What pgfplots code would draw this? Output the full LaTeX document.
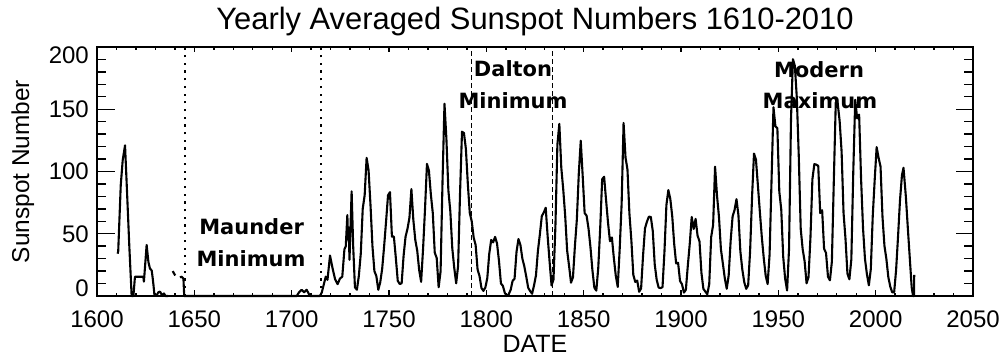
\documentclass[border=0pt]{standalone}
\usepackage{pgfplots}
\pgfplotsset{compat=1.18}
\usepackage{fontspec}
\setmainfont{Liberation Sans}
\newfontfamily\annfont{DejaVu Sans}
\pgfplotstableread{
year ssn
1642.6 15
1643.5 15.5
1644.4 14
1644.8 0
1700.0 0
1702.6 0
1703.8 3
1705.1 5
1706.4 3
1707.7 5
1709.4 0
1714.5 0
1715.5 3
1716.3 8
1717.5 15.5
1718.4 13
1719.7 32.5
1720.9 23
1722.3 13.5
1723.6 9.5
1724.8 14
1726.0 15.5
1727.1 37.5
1727.8 40
1728.6 65
1729.0 45
1729.3 55
1729.7 29
1730.8 84
1731.6 40
1732.5 7
1733.5 5.0
1734.5 16.0
1735.5 34.0
1736.5 70.0
1737.5 81.0
1738.5 111.0
1739.5 101.0
1740.5 73.0
1741.5 40.0
1742.5 20.0
1743.5 16.0
1744.5 5.0
1745.5 11.0
1746.5 22.0
1747.5 40.0
1748.5 60.0
1749.5 80.9
1750.5 83.4
1751.5 47.7
1752.5 47.8
1753.5 30.7
1754.5 12.2
1755.5 9.6
1756.5 10.2
1757.5 32.4
1758.5 47.6
1759.5 54.0
1760.5 62.9
1761.5 85.9
1762.5 61.2
1763.5 45.1
1764.5 36.4
1765.5 20.9
1766.5 11.4
1767.5 37.8
1768.5 69.8
1769.5 106.1
1770.5 100.8
1771.5 81.6
1772.5 66.5
1773.5 34.8
1774.5 30.6
1775.5 7.0
1776.5 19.8
1777.5 92.5
1778.5 154.4
1779.5 125.9
1780.5 84.8
1781.5 68.1
1782.5 38.5
1783.5 22.8
1784.5 10.2
1785.5 24.1
1786.5 82.9
1787.5 132.0
1788.5 130.9
1789.5 118.1
1790.5 89.9
1791.5 66.6
1792.5 60.0
1793.5 46.9
1794.5 41.0
1795.5 21.3
1796.5 16.0
1797.5 6.4
1798.5 4.1
1799.5 6.8
1800.5 14.5
1801.5 34.0
1802.5 45.0
1803.5 43.1
1804.5 47.5
1805.5 42.2
1806.5 28.1
1807.5 10.1
1808.5 8.1
1809.5 2.5
1810.5 0.0
1811.5 1.4
1812.5 5.0
1813.5 12.2
1814.5 13.9
1815.5 35.4
1816.5 45.8
1817.5 41.1
1818.5 30.1
1819.5 23.9
1820.5 15.6
1821.5 6.6
1822.5 4.0
1823.5 1.8
1824.5 8.5
1825.5 16.6
1826.5 36.3
1827.5 49.6
1828.5 64.2
1829.5 67.0
1830.5 70.9
1831.5 47.8
1832.5 27.5
1833.5 8.5
1834.5 13.2
1835.5 56.9
1836.5 121.5
1837.5 138.3
1838.5 103.2
1839.5 85.7
1840.5 64.6
1841.5 36.7
1842.5 24.2
1843.5 10.7
1844.5 15.0
1845.5 40.1
1846.5 61.5
1847.5 98.5
1848.5 124.7
1849.5 96.3
1850.5 66.6
1851.5 64.5
1852.5 54.1
1853.5 39.0
1854.5 20.6
1855.5 6.7
1856.5 4.3
1857.5 22.7
1858.5 54.8
1859.5 93.8
1860.5 95.8
1861.5 77.2
1862.5 59.1
1863.5 44.0
1864.5 47.0
1865.5 30.5
1866.5 16.3
1867.5 7.3
1868.5 37.6
1869.5 74.0
1870.5 139.0
1871.5 111.2
1872.5 101.6
1873.5 66.2
1874.5 44.7
1875.5 17.0
1876.5 11.3
1877.5 12.4
1878.5 3.4
1879.5 6.0
1880.5 32.3
1881.5 54.3
1882.5 59.7
1883.5 63.7
1884.5 63.5
1885.5 52.2
1886.5 25.4
1887.5 13.1
1888.5 6.8
1889.5 6.3
1890.5 7.1
1891.5 35.6
1892.5 73.0
1893.5 85.1
1894.5 78.0
1895.5 64.0
1896.5 41.8
1897.5 26.2
1898.5 26.7
1899.5 12.1
1900.5 9.5
1901.5 2.7
1902.5 5.0
1903.5 24.4
1904.5 42.0
1905.5 63.5
1906.5 53.8
1907.5 62.0
1908.5 48.5
1909.5 43.9
1910.5 18.6
1911.5 5.7
1912.5 3.6
1913.5 1.4
1914.5 9.6
1915.5 47.4
1916.5 57.1
1917.5 103.9
1918.5 80.6
1919.5 63.6
1920.5 37.6
1921.5 26.1
1922.5 14.2
1923.5 5.8
1924.5 16.7
1925.5 44.3
1926.5 63.9
1927.5 69.0
1928.5 77.8
1929.5 64.9
1930.5 35.7
1931.5 21.2
1932.5 11.1
1933.5 5.7
1934.5 8.7
1935.5 36.1
1936.5 79.7
1937.5 114.4
1938.5 109.6
1939.5 88.8
1940.5 67.8
1941.5 47.5
1942.5 30.6
1943.5 16.3
1944.5 9.6
1945.5 33.2
1946.5 92.6
1947.5 151.6
1948.5 136.3
1949.5 134.7
1950.5 83.9
1951.5 69.4
1952.5 31.5
1953.5 13.9
1954.5 4.4
1955.5 38.0
1956.5 141.7
1957.5 190.2
1958.5 184.8
1959.5 159.0
1960.5 112.3
1961.5 53.9
1962.5 37.6
1963.5 27.9
1964.5 10.2
1965.5 15.1
1966.5 47.0
1967.5 93.8
1968.5 105.9
1969.5 105.5
1970.5 104.5
1971.5 66.6
1972.5 68.9
1973.5 38.0
1974.5 34.5
1975.5 15.5
1976.5 12.6
1977.5 27.5
1978.5 92.5
1979.5 155.4
1980.5 154.6
1981.5 140.4
1982.5 115.9
1983.5 66.6
1984.5 45.9
1985.5 17.9
1986.5 13.4
1987.5 29.4
1988.5 100.2
1989.5 157.6
1990.5 142.6
1991.5 145.7
1992.5 94.3
1993.5 54.6
1994.5 29.9
1995.5 17.5
1996.5 8.6
1997.5 21.5
1998.5 64.3
1999.5 93.3
2000.5 119.6
2001.5 111.0
2002.5 104.0
2003.5 63.7
2004.5 40.4
2005.5 29.8
2006.5 15.2
2007.5 7.5
2008.5 2.9
2009.5 3.1
2010.5 21
2011.5 48
2012.5 77
2013.5 97
2014.3 103
2015.5 80
2016.5 55
2017.5 31
2018.5 7
2019.2 0
2019.7 0
2019.8 17
}\mainseries
\pgfplotstableread{
year ssn
1610.6 34
1610.9 36
1612.2 89
1613.2 109
1614.4 121
1615.2 92
1616.6 40
1617.8 0
1618.7 0
1619.5 15.5
1623.8 15.5
1624.1 11.5
1625.5 41
1626.4 27.5
1627.2 22
1628.1 20.5
1628.6 14.5
1629.0 9
1629.5 1
1630.5 0
1631.5 3
1632.4 3.5
1633.4 0.5
1634.4 2
1635.2 0
1636.5 0
}\earlyseries
\pgfplotstableread{
year ssn
1638.9 20
1639.6 18
1640.2 16.5
}\gapseries
\pgfplotsset{
  common/.style={
    at={(0,0)}, anchor=south west,
    scale only axis, width=876bp, height=249bp,
    xmin=1600, xmax=2050, ymin=0, ymax=200,
    clip=false,
    axis line style={line width=1.8bp},
    every tick/.style={black, line width=1.4bp},
    tick align=inside,
    /pgf/number format/1000 sep={},
    /pgf/number format/assume math mode=true,
    tick label style={font=\fontsize{24bp}{28bp}\selectfont},
  },
  curve/.style={black, line width=2.1bp, line join=round, no marks},
}
\begin{document}
\begin{tikzpicture}
\useasboundingbox (-97bp,-60bp) rectangle (906bp,296bp);
% axis with the data, the y ticks and the texts
\begin{axis}[
  common,
  major tick length=17.5bp, minor tick length=9bp,
  xtick=\empty,
  ytick={0,50,...,200}, minor y tick num=4,
  yticklabels={{},50,100,150,{}},
  yticklabel style={anchor=east, inner sep=0pt, xshift=-8bp},
  title={Yearly Averaged Sunspot Numbers 1610-2010},
  title style={at={(axis description cs:0.5,1.0482)}, anchor=base, inner sep=0pt, font=\fontsize{30.9bp}{34bp}\selectfont},
  xlabel={DATE},
  xlabel style={at={(axis description cs:0.5,-0.2249)}, anchor=base, inner sep=0pt, font=\fontsize{25bp}{28bp}\selectfont},
  ylabel={Sunspot Number},
  ylabel style={at={(axis description cs:-0.0774,0.5)}, anchor=base, inner sep=0pt, font=\fontsize{24.4bp}{28bp}\selectfont},
]
\addplot[curve] table[x=year,y=ssn] {\earlyseries};
\addplot[curve] table[x=year,y=ssn] {\gapseries};
\addplot[curve] table[x=year,y=ssn] {\mainseries};
\addplot[black, line width=2.2bp, dash pattern=on 2.2bp off 5.5bp, no marks] coordinates {(1645.2,0) (1645.2,200)};
\addplot[black, line width=2.2bp, dash pattern=on 2.2bp off 5.5bp, no marks] coordinates {(1715,0) (1715,200)};
\addplot[black, line width=1.2bp, dash pattern=on 5bp off 3bp, no marks] coordinates {(1792.5,0) (1792.5,200)};
\addplot[black, line width=1.2bp, dash pattern=on 5bp off 3bp, no marks] coordinates {(1834,0) (1834,200)};
\node[anchor=east, inner sep=0pt, xshift=-8bp, yshift=8bp, font=\fontsize{24bp}{28bp}\selectfont] at (axis cs:1600,0) {0};
\node[anchor=east, inner sep=0pt, xshift=-8bp, yshift=-8bp, font=\fontsize{24bp}{28bp}\selectfont] at (axis cs:1600,200) {200};
\begin{scope}[every node/.style={anchor=base, inner sep=0pt, font=\fontsize{21bp}{24bp}\annfont\bfseries}]
\node at (axis cs:1679.4,49) {Maunder};
\node at (axis cs:1679.1,23.3) {Minimum};
\node at (axis cs:1813.7,176.1) {Dalton};
\node at (axis cs:1813.7,151) {Minimum};
\node at (axis cs:1970.9,175.9) {Modern};
\node at (axis cs:1971.4,151) {Maximum};
\end{scope}
\end{axis}
% overlaid axis for the short x ticks and their labels
\begin{axis}[
  common,
  major tick length=5.5bp, minor tick length=3bp,
  ytick=\empty,
  xtick={1600,1650,...,2050}, minor x tick num=4,
  xticklabel style={anchor=base, yshift=-31bp},
]
\end{axis}
\end{tikzpicture}
\end{document}
